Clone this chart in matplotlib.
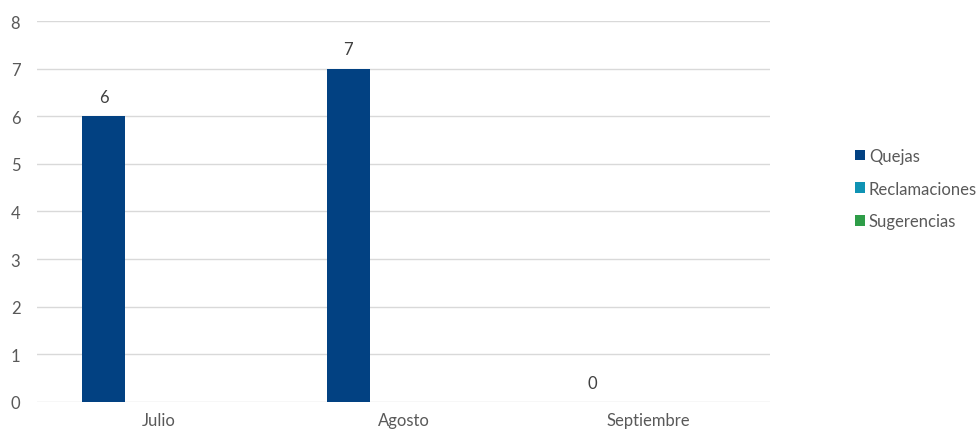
import matplotlib.pyplot as plt
import numpy as np
from matplotlib.patches import Patch

# data
meses = ["Julio", "Agosto", "Septiembre"]
series = ["Quejas", "Reclamaciones", "Sugerencias"]
quejas = [6, 7, 0]
reclamaciones = [0, 0, 0]
sugerencias = [0, 0, 0]
colores = ["#024182", "#0f93b4", "#2e9d48"]

plt.rcParams["font.family"] = ["Lato", "DejaVu Sans"]
texto = "#595959"
fs = 12

fig = plt.figure(figsize=(9.79, 4.35), dpi=100)
ax = fig.add_axes([0.0378, 0.0736, 0.7487, 0.8758])

x = np.arange(len(meses))
ancho = 0.176
offsets = [-0.227, -0.051, 0.125]
valores = [quejas, reclamaciones, sugerencias]

for i, (vals, col) in enumerate(zip(valores, colores)):
    bars = ax.bar(x + offsets[i], vals, width=ancho, color=col, linewidth=0, zorder=3)
    if i == 0:
        for b, v in zip(bars, vals):
            ax.text(b.get_x() + b.get_width() / 2, v + 0.24, str(v),
                    ha="center", va="bottom", fontsize=fs, color="#404040")

ax.set_xlim(-0.5, 2.5)
ax.set_ylim(0, 8)
ax.set_yticks(range(0, 9))
ax.set_xticks(x)
ax.set_xticklabels(meses)
ax.grid(axis="y", color="#d9d9d9", linewidth=1, zorder=0)
ax.set_axisbelow(True)
for s in ax.spines.values():
    s.set_visible(False)
ax.tick_params(length=0, labelsize=fs, colors=texto)
ax.tick_params(axis="y", pad=12)
ax.tick_params(axis="x", pad=7)

handles = [Patch(facecolor=c, edgecolor="none") for c in colores]
leg = fig.legend(handles, series, loc="center left", bbox_to_anchor=(0.873, 0.564),
                 frameon=False, fontsize=fs, handlelength=0.6, handleheight=0.6,
                 handletextpad=0.25, labelspacing=1.0, borderaxespad=0,
                 borderpad=0)
for t in leg.get_texts():
    t.set_color(texto)

fig.savefig("out.png", dpi=100)
